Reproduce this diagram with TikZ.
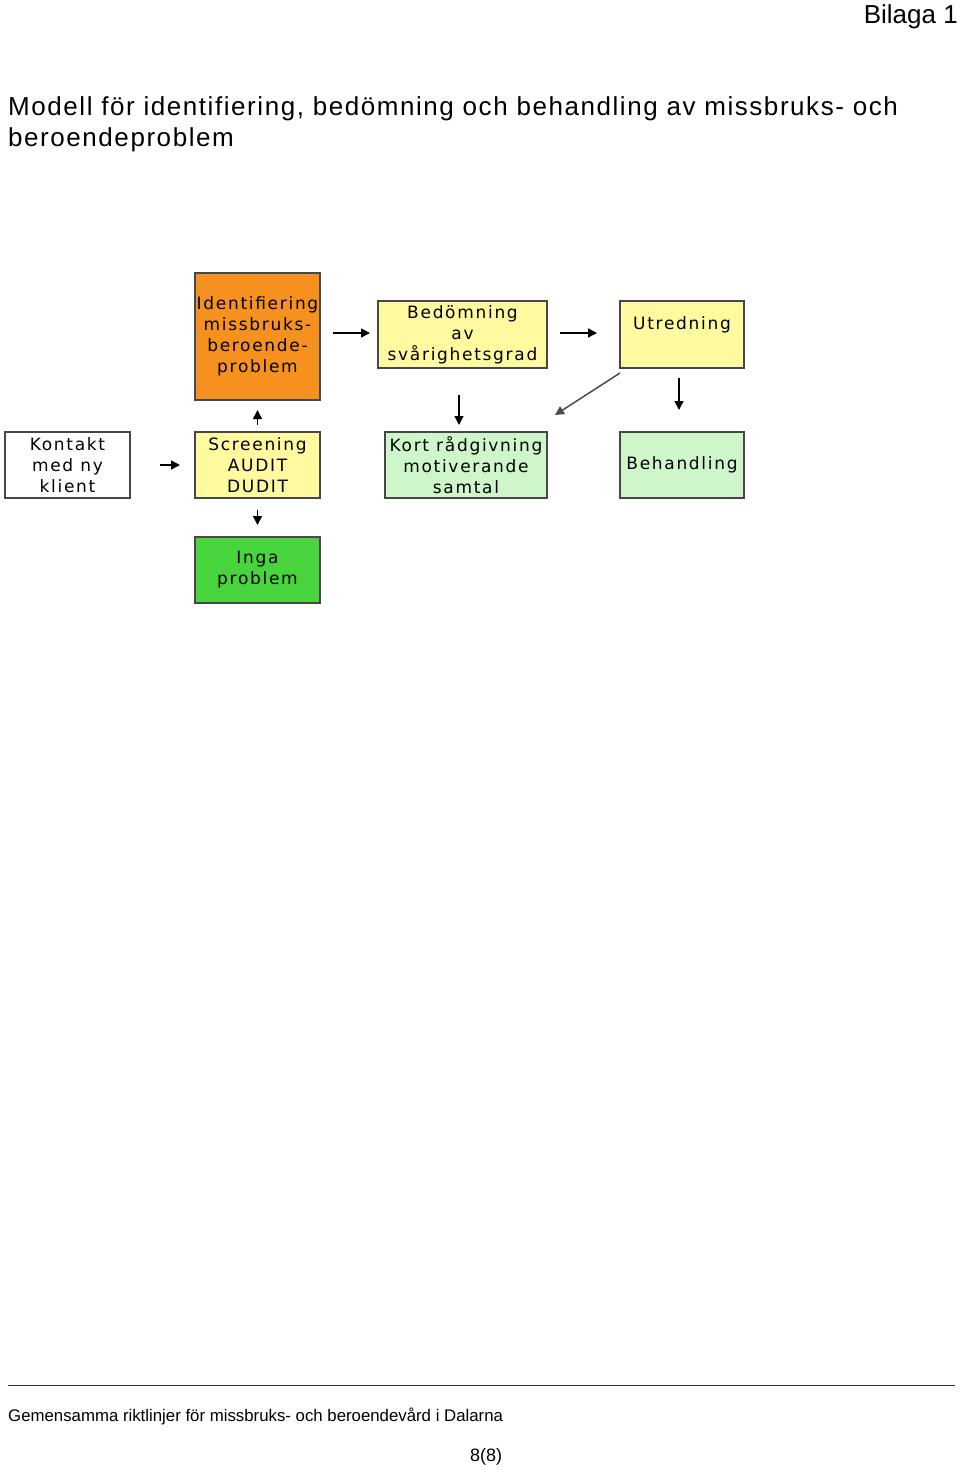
\documentclass[tikz,border=0pt]{standalone}
\usepackage{fontspec}
\setmainfont{Liberation Sans}
\newfontfamily\boxfont[LetterSpace=10]{DejaVu Sans}
\newfontfamily\headfont[LetterSpace=6]{Liberation Sans}
\usetikzlibrary{positioning,arrows.meta,calc}
\definecolor{idorange}{RGB}{246,144,30}
\definecolor{paleyellow}{RGB}{255,250,160}
\definecolor{palegreen}{RGB}{206,246,202}
\definecolor{okgreen}{RGB}{72,212,60}

\begin{document}
\begin{tikzpicture}[
  x=1pt, y=-1pt,
  stepbox/.style={draw=black!72, line width=1.8pt, align=center, inner sep=0pt, outer sep=0pt,
                  minimum width=125pt, minimum height=66pt,
                  font=\boxfont\fontsize{17}{21}\selectfont},
  arr/.style={-{Triangle[length=9pt,width=9pt]}, line width=1.5pt, black},
  pagetext/.style={inner sep=0pt}
]
\useasboundingbox (0,0) rectangle (960,1470);
% ---------------- Page head ----------------
\node[pagetext, anchor=base east, font=\fontsize{26}{31}\selectfont] (bil) at (958,23) {Bilaga 1};
\node[pagetext, anchor=base west, align=left, font=\headfont\fontsize{26}{31}\selectfont] (ttl) at (8,146)
  {Modell för identifiering, bedömning och behandling av missbruks- och\\beroendeproblem};
% ---------------- Bottom row ----------------
\node[stepbox, fill=white] (kon) at (67.5,465) {Kontakt\\med ny\\klient};
\node[stepbox, fill=paleyellow, right=65pt of kon] (scr) {Screening\\AUDIT\\DUDIT};
\node[stepbox, fill=palegreen, minimum width=162pt, right=65pt of scr] (kort)
  {Kort rådgivning\\motiverande\\samtal};
\node[stepbox, fill=palegreen, minimum width=124pt, right=73pt of kort] (beh) {Behandling};
\node[stepbox, fill=okgreen, below=39pt of scr] (inga) {Inga\\problem};
% ---------------- Top row ----------------
\node[stepbox, fill=idorange, minimum height=127pt, above=32pt of scr] (id)
  {Identifiering\\missbruks-\\beroende-\\problem};
\node[stepbox, fill=paleyellow, minimum width=169pt, minimum height=67pt] (bed) at (462.5,334.5)
  {Bedömning\\av\\svårighetsgrad};
\node[stepbox, fill=paleyellow, minimum width=124pt, minimum height=67pt, right=73pt of bed] (utr)
  {Utredning\\[2pt]\mbox{}};
% ---------------- Arrows ----------------
\draw[arr, shorten <=30pt, shorten >=15pt] (kon) -- (scr);
\draw[arr, shorten <=7pt, shorten >=10pt] (scr) -- (id);
\draw[arr, shorten <=12pt, shorten >=12pt] (scr) -- (inga);
\draw[arr, shorten <=13pt, shorten >=8pt] ([yshift=1.5pt]id.east |- bed) -- ([yshift=1.5pt]bed.west);
\draw[arr, shorten <=13pt, shorten >=23pt] ([yshift=1.5pt]bed.east) -- ([yshift=1.5pt]utr.west);
\draw[arr, shorten <=27pt, shorten >=7pt] ([xshift=-3.5pt]bed.south) -- ([xshift=-3.5pt]bed.south |- kort.north);
\draw[arr, shorten <=10pt, shorten >=22pt] ([xshift=-3pt]utr.south) -- ([xshift=-3pt]utr.south |- beh.north);
\draw[arr, black!70] ([yshift=-5pt]utr.south west) -- ([shift={(8pt,17pt)}]kort.north east);
% ---------------- Page foot ----------------
\coordinate (fl) at (8,1385);
\coordinate (fr) at (955,1385);
\draw[line width=0.8pt, black!80] (fl) -- (fr);
\node[pagetext, anchor=base west, font=\fontsize{16.8}{20}\selectfont] (ftx) at (8,1421)
  {Gemensamma riktlinjer för missbruks- och beroendevård i Dalarna};
\node[pagetext, anchor=base, font=\fontsize{18}{22}\selectfont] (pg) at (486,1461) {8(8)};
\end{tikzpicture}
\end{document}
